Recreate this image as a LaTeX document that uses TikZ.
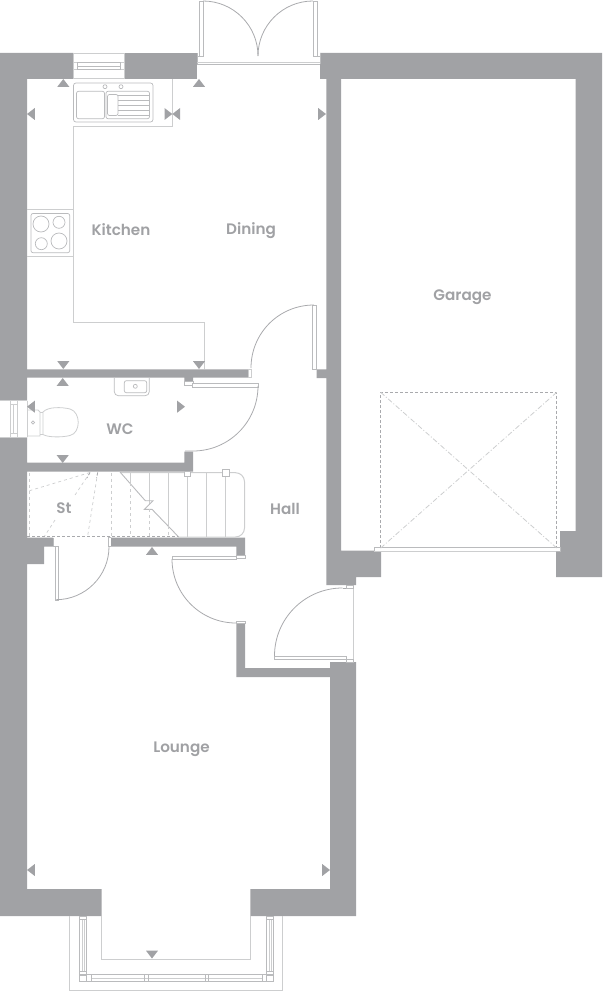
\documentclass[tikz,border=0pt]{standalone}
\usepackage{fontspec}
\setmainfont{Poppins}[UprightFont=* SemiBold]
\definecolor{wallc}{HTML}{A1A2A5}
\definecolor{linec}{HTML}{BABBBD}
\definecolor{lightc}{HTML}{CDCECF}
\definecolor{darkl}{HTML}{A9AAAD}
\definecolor{textc}{HTML}{A0A1A4}
\tikzset{
  wall/.style={fill=wallc,draw=none},
  fixt/.style={draw=linec,line width=0.7pt,fill=none},
  lite/.style={draw=lightc,line width=1pt,fill=none},
  arcl/.style={draw=darkl,line width=0.8pt,fill=none},
  leaf/.style={draw=linec,line width=0.8pt,fill=white},
  dashl/.style={draw=lightc,line width=0.7pt,dash pattern=on 3pt off 3pt},
  dashd/.style={draw=darkl,line width=0.8pt,dash pattern=on 3pt off 2pt},
  diag/.style={draw=lightc,line width=0.8pt,dash pattern=on 5pt off 2pt on 1pt off 2pt},
  tri/.style={fill=wallc,draw=none},
  room/.style={text=textc,font=\fontsize{15.2}{15.2}\selectfont,inner sep=0pt}
}
\newcommand{\triU}[2]{\fill[tri] (#1,#2) -- ++(-6,7.8) -- ++(12,0) -- cycle;}
\newcommand{\triD}[2]{\fill[tri] (#1,#2) -- ++(-6,-7.8) -- ++(12,0) -- cycle;}
\newcommand{\triL}[2]{\fill[tri] (#1,#2) -- ++(7.8,-6) -- ++(0,12) -- cycle;}
\newcommand{\triR}[2]{\fill[tri] (#1,#2) -- ++(-7.8,-6) -- ++(0,12) -- cycle;}
\begin{document}
\begin{tikzpicture}[x=1pt,y=-1pt]
\useasboundingbox (0,0) rectangle (602,992);
% ---- walls
\path[wall] (0,53) -- (73.3,53) -- (73.3,79) -- (27,79) -- (27,369.3) -- (184.3,369.3) -- (248,369.3) -- (248,377.7) -- (193,377.7) -- (193,381.7) -- (184.3,381.7) -- (184.3,377.7) -- (27,377.7) -- (27,400.7) -- (0,400.7) -- cycle;
\path[wall] (124,53) -- (197,53) -- (197,79) -- (124,79) -- cycle;
\path[wall] (0,437) -- (27,437) -- (27,462.7) -- (184.3,462.7) -- (184.3,451.5) -- (193,451.5) -- (193,471.7) -- (27,471.7) -- (27,537.7) -- (53,537.7) -- (53,546.7) -- (44,546.7) -- (44,564) -- (27,564) -- (27,889) -- (101.7,889) -- (101.7,916) -- (0,916) -- cycle;
\path[wall] (111,537.7) -- (245,537.7) -- (245,555) -- (236.3,555) -- (236.3,546.7) -- (111,546.7) -- cycle;
\path[wall] (320,53) -- (602,53) -- (602,577) -- (556,577) -- (556,548) -- (560,548) -- (560,531) -- (575.5,531) -- (575.5,79) -- (341,79) -- (341,550.7) -- (381,550.7) -- (381,577) -- (356,577) -- (356,585) -- (326.3,585) -- (326.3,378) -- (316.7,378) -- (316.7,369.3) -- (326.3,369.3) -- (326.3,79) -- (320,79) -- cycle;
\path[wall] (236.3,623) -- (245,623) -- (245,668) -- (330,668) -- (330,662) -- (356,662) -- (356,916) -- (250.3,916) -- (250.3,889) -- (330,889) -- (330,677) -- (236.3,677) -- cycle;
% ---- top window
\draw[lite] (73.3,53.5) -- (124,53.5) (73.3,79) -- (124,79) (73.3,53.5) -- (73.3,79) (124,53.5) -- (124,79);
\draw[lite] (73.3,62.7) -- (124,62.7) (73.3,69.7) -- (124,69.7);
\draw[fixt] (77,62.7) rectangle (120.7,69.7) (77,66.2) -- (120.7,66.2);
% ---- french doors
\draw[fixt] (197,53.5) -- (197,64) (320,53.5) -- (320,64);
\draw[lite] (197,62.5) -- (320,62.5);
\draw[fixt] (197,64.3) -- (320,64.3);
\draw[fixt] (199.5,1) rectangle (203,56) (313.3,1) rectangle (317,56);
\draw[fixt] (197,56) -- (199.5,56) (317,56) -- (320,56);
\draw[arcl] (203,1) arc[start angle=-90,end angle=0,radius=55];
\draw[arcl] (313,1) arc[start angle=-90,end angle=-180,radius=55];
% ---- kitchen units
\draw[lite] (172.5,79) -- (172.5,126.3) -- (73.5,126.3) -- (73.5,322.7) -- (204.5,322.7) -- (204.5,369);
\draw[fixt,rounded corners=2.5pt] (73.5,83) rectangle (153,122);
\draw[fixt,rounded corners=2pt] (76.5,91.3) rectangle (104.5,118.7);
\draw[fixt,rounded corners=2pt] (106,91.3) rectangle (149.5,118.7);
\draw[fixt,rounded corners=2pt] (107.5,94.5) rectangle (118,115.5);
\foreach \yy in {95,100,105,110,115} \draw[fixt] (118,\yy) -- (149.5,\yy);
\draw[fixt] (105,86.7) circle[radius=2] (121,86.7) circle[radius=2];
\draw[lite] (27,209.5) -- (73.5,209.5) (27,256.5) -- (73.5,256.5);
\draw[fixt,rounded corners=2pt] (31,213.5) rectangle (69.7,252.7);
\draw[fixt] (41,224) circle[radius=8] (59,222.3) circle[radius=6] (41.3,243.7) circle[radius=6] (59,241) circle[radius=8];
% ---- WC window
\draw[lite] (0,400.7) -- (27,400.7) (0,437) -- (27,437) (27,400.7) -- (27,437);
\draw[lite] (10.7,400.7) -- (10.7,437) (17.3,400.7) -- (17.3,437) (13.2,404.7) -- (13.2,433);
\draw[lite] (10.7,404.7) -- (17.3,404.7) (10.7,433) -- (17.3,433);
% ---- toilet
\draw[lite,line width=0.8pt] (27,410) -- (38,410) -- (40,412) -- (40,436) -- (27,436);
\draw[lite,line width=0.8pt] (40,412) -- (43,412) (40,434.5) -- (43,434.5);
\draw[lite,line width=0.8pt] (43,412) .. controls (48,406.5) and (62,407) .. (70,409) .. controls (81,412) and (81,433) .. (70,435.5) .. controls (62,437.5) and (48,437.5) .. (43,434.5) -- cycle;
\draw[fixt] (33,422.5) circle[radius=1.7];
% ---- basin
\draw[fixt,rounded corners=4pt] (114.3,378) -- (114.3,395.7) -- (149.3,395.7) -- (149.3,378);
\draw[fixt,rounded corners=2pt] (124.3,380.7) rectangle (146.7,392.7);
\draw[fixt] (135.3,386.3) circle[radius=2];
% ---- doors
\draw[lite] (248,369.3) rectangle (251,377.7);
\draw[fixt] (316.7,305) -- (312.7,305) -- (312.7,369.3) -- (316.7,369.3) -- cycle;
\draw[arcl] (251,368) .. controls (251,333) and (279,305) .. (314,305);
\draw[fixt] (193,381.7) rectangle (184.3,385);
\draw[leaf] (192.5,383.5) rectangle (258,387);
\draw[arcl] (258,386) arc[start angle=0,end angle=90,radius=65] -- (185,451);
\draw[leaf] (55.5,546.7) rectangle (58.7,600);
\draw[fixt] (53,546.7) -- (53,537.7) (53,546.7) -- (58.7,546.7);
\draw[fixt] (111,537.7) -- (108,537.7) -- (108,546.7) -- (111,546.7);
\draw[arcl] (109,546.7) arc[start angle=0,end angle=90,radius=53];
\draw[leaf] (172,556) rectangle (236.3,559);
\draw[fixt] (236.3,555) rectangle (245,558.5);
\draw[arcl] (172,559) arc[start angle=180,end angle=90,radius=64];
\draw[fixt] (236.3,621) rectangle (245,623);
% ---- front door
\draw[lite] (353.5,585) -- (353.5,662);
\draw[fixt] (346,585) rectangle (353.5,588);
\draw[fixt] (346,659) rectangle (353.5,662);
\draw[leaf] (274.5,656) rectangle (346,659.5);
\draw[arcl] (274.5,656) arc[start angle=180,end angle=270,radius=68];
\draw[arcl] (342.5,588) -- (346,588);
% ---- stairs
\draw[lite,rounded corners=9pt] (120,472.7) -- (244.5,472.7) -- (244.5,537) -- (178,537);
\foreach \xx/\yy in {130/483,149/504,168.3/525.5,187.3/537,206.7/537,225.7/537} \draw[lite] (\xx,472.7) -- (\xx,\yy);
\draw[fixt,line width=0.9pt] (120,472) -- (145.3,500.7) -- (153,500.7) -- (144.5,509.3) -- (152,509.3) -- (178.7,537);
\draw[fixt,fill=white] (184.5,471) rectangle (190.5,476);
\draw[fixt,fill=white] (222.5,469.5) rectangle (229.5,476);
\foreach \xx/\yy in {111.3/472.7,130/483,149/509,168.3/525.5} \draw[dashl] (\xx,\yy) -- (\xx,537);
\draw[dashl] (29.5,472.7) -- (29.5,537);
\draw[dashl] (29.5,490.7) -- (90,472.5);
\draw[dashl] (97.7,472.5) -- (87.5,537);
\draw[dashl] (90,472.5) -- (75,495);
\draw[dashl] (55,520) -- (44,537);
\draw[dashd] (27,536.7) -- (178,536.7);
\draw[dashd] (90,472.5) -- (87,478) (97.7,472.5) -- (96.5,478);
% ---- garage door
\draw[fixt,fill=white] (374.3,547.7) rectangle (560,551);
\draw[lite] (374.3,551.3) -- (556,551.3);
\draw[dashd] (380.7,548) -- (380.7,392.3) -- (556.7,392.3) -- (556.7,548);
\draw[diag] (380.7,392.3) -- (556.7,548);
\draw[diag] (556.7,392.3) -- (380.7,548);
% ---- bay window
\draw[lite] (69.7,916) -- (69.7,990.7) -- (282.7,990.7) -- (282.7,916);
\draw[lite] (101.7,916) -- (101.7,959) -- (250.3,959) -- (250.3,916);
\draw[fixt] (79.3,916) rectangle (86.7,975);
\draw[lite] (82,919.5) -- (82,971) (84.5,919.5) -- (84.5,971);
\draw[fixt] (79.3,919.5) -- (86.7,919.5) (79.3,971) -- (86.7,971);
\draw[fixt] (266.7,916) rectangle (273.7,975);
\draw[lite] (269,919.5) -- (269,971) (271.5,919.5) -- (271.5,971);
\draw[fixt] (266.7,919.5) -- (273.7,919.5) (266.7,971) -- (273.7,971);
\draw[fixt] (79.3,974.7) rectangle (273.7,981.3);
\draw[lite] (91,978) -- (262.5,978);
\draw[fixt] (86.7,974.7) -- (86.7,981.3) (91,974.7) -- (91,981.3) (262.5,974.7) -- (262.5,981.3) (266.7,974.7) -- (266.7,981.3);
\draw[fixt] (144.8,974.7) rectangle (148,981.3);
\draw[fixt] (205.5,974.7) rectangle (208.7,981.3);
% ---- view arrows
\triU{63.3}{79}\triU{199}{79}\triL{27}{114}\triR{172.3}{114}\triL{172.3}{114}\triR{326}{114}
\triD{63.3}{369}\triD{199}{369}\triU{62.7}{378}\triL{27}{406.7}\triR{185}{406.7}\triD{62.7}{463}
\triU{152}{547}\triL{27}{870}\triR{330}{870}\triD{152}{958.5}
% ---- labels
\node[room] (kitchen) at (121,230) {Kitchen};
\node[room] (dining) at (251,231) {Dining};
\node[room] (garage) at (462.5,297.5) {Garage};
\node[room] (wc) at (120,429) {WC};
\node[room] (st) at (64,508.5) {St};
\node[room] (hall) at (285,509) {Hall};
\node[room] (lounge) at (181.5,749.5) {Lounge};
\end{tikzpicture}
\end{document}
